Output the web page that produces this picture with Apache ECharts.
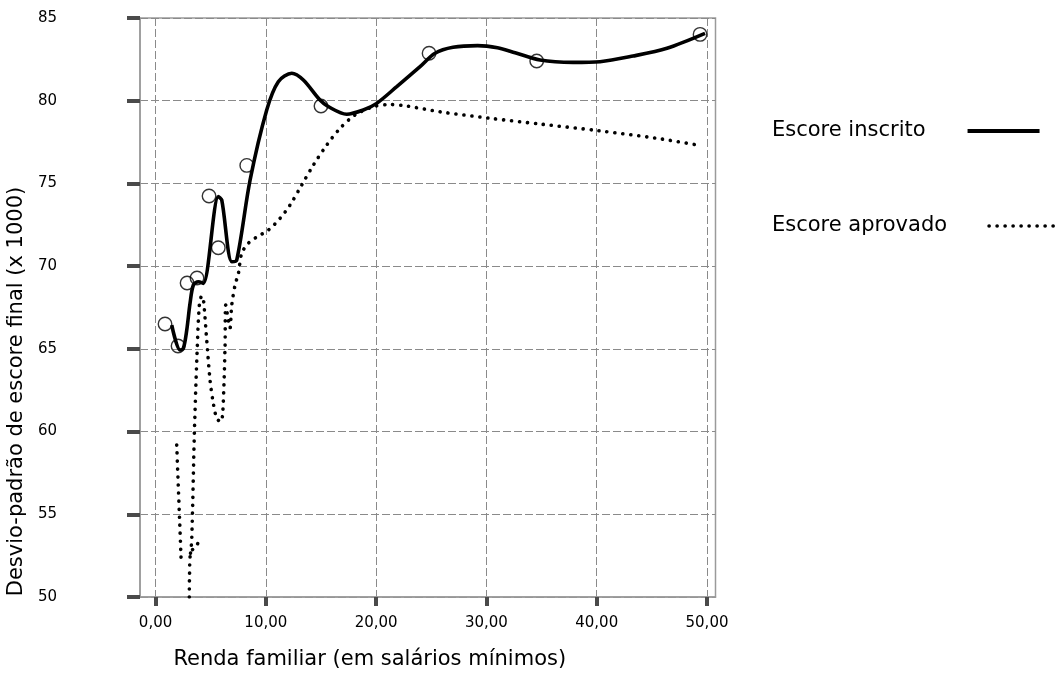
<!DOCTYPE html>
<html>
<head>
<meta charset="utf-8">
<script src="https://cdn.jsdelivr.net/npm/echarts@6/dist/echarts.min.js"></script>
<style>
html,body{margin:0;padding:0;background:#fff;}
#chart{width:1062px;height:674px;}
</style>
</head>
<body>
<div id="chart"></div>
<script>
// Tick labels
const xTicks = [0, 10, 20, 30, 40, 50];

// Escore inscrito: smoothed curve [renda, desvio]
const inscritoCurve = [
  [1.47, 66.44], [2.22, 64.93], [2.52, 65.03], [2.83, 66.14], [3.13, 67.77],
  [3.43, 68.86], [3.88, 69.06], [4.33, 68.96], [5.69, 74.2], [6.0, 74.0],
  [6.91, 70.27], [7.36, 70.37], [8.57, 75.2], [10.08, 79.44], [11.13, 81.15],
  [12.35, 81.66], [13.4, 81.25], [14.91, 80.04], [15.67, 79.64], [17.33, 79.18],
  [18.84, 79.44], [20.05, 79.84], [21.87, 80.85], [23.98, 82.06], [25.34, 82.87],
  [26.97, 83.23], [29.2, 83.33], [31.0, 83.2], [32.6, 82.9], [34.86, 82.46], [37.85, 82.32],
  [40.3, 82.36], [43.29, 82.7], [46.37, 83.17], [49.82, 84.07]
];

// Escore inscrito: observed points (open circles)
const inscritoPoints = [
  [0.86, 66.5], [2.04, 65.17], [2.86, 68.98], [3.76, 69.28], [4.85, 74.24],
  [5.69, 71.11], [8.27, 76.09], [15.0, 79.68], [24.8, 82.87], [34.56, 82.4],
  [49.37, 84.01]
];

// Escore aprovado: smoothed curve (breaks marked with '-')
const aprovadoCurve = [
  [1.92, 59.18], [2.31, 52.41],
  ['-', '-'],
  [3.06, 50.0], [3.08, 51.32], [3.17, 52.65], [3.74, 53.14], [4.1, 53.56],
  ['-', '-'],
  [3.17, 52.65], [3.28, 53.44], [3.52, 59.91], [3.74, 64.32], [3.97, 67.65],
  [4.19, 68.19], [4.33, 68.05], [4.64, 65.53], [4.94, 63.11], [5.24, 61.7],
  [5.55, 60.8], [5.91, 60.59], [6.09, 61.1], [6.3, 65.11], [6.36, 67.65],
  [6.57, 66.86], [6.75, 66.26], [6.91, 67.65], [7.21, 68.86], [7.51, 69.56],
  [7.81, 70.77], [8.41, 71.38], [9.17, 71.76], [10.23, 72.18], [11.29, 72.89],
  [12.19, 73.69], [13.25, 74.9], [14.31, 76.11], [15.52, 77.32], [16.73, 78.33],
  [18.09, 79.14], [19.75, 79.64], [21.26, 79.77], [22.77, 79.68], [25.79, 79.33],
  [30.33, 78.94], [34.86, 78.59], [40.14, 78.19], [45.44, 77.73], [49.52, 77.28]
];

const FONT = 'DejaVu Sans, sans-serif';
const DOT = {color: '#000', width: 3.6, type: [0.1, 7.9], cap: 'round'};
const chart = echarts.init(document.getElementById('chart'), null, {renderer: 'canvas'});

const legendBase = {
  orient: 'vertical',
  left: 772,
  align: 'right',
  padding: 0,
  itemWidth: 72, itemHeight: 24,
  itemStyle: {opacity: 0},
  textStyle: {fontFamily: FONT, fontSize: 21, color: '#000', padding: [0, 37, 0, 0], lineHeight: 24}
};

chart.setOption({
  backgroundColor: '#ffffff',
  animation: false,
  grid: {
    left: 140, top: 18, right: 346.5, bottom: 77,
    outerBoundsMode: 'none',
    containLabel: false,
    show: true, borderColor: '#9a9a9a', borderWidth: 1.5, backgroundColor: 'transparent'
  },
  legend: [
    Object.assign({}, legendBase, {data: ['Escore inscrito'], top: 119, lineStyle: {color: '#000', width: 4}}),
    Object.assign({}, legendBase, {data: ['Escore aprovado'], top: 214, lineStyle: DOT})
  ],
  xAxis: {
    type: 'value',
    min: -1.41, max: 50.77,
    name: 'Renda familiar (em salários mínimos)',
    nameLocation: 'middle',
    nameGap: 52,
    nameTextStyle: {fontFamily: FONT, fontSize: 21, color: '#000', padding: [0, 116, 0, 0]},
    axisLine: {show: true, onZero: false, lineStyle: {color: '#9a9a9a', width: 1.5}},
    axisTick: {show: true, length: 9, customValues: xTicks, lineStyle: {color: '#4a4a4a', width: 4}},
    axisLabel: {
      customValues: xTicks, margin: 19, fontFamily: FONT, fontSize: 15, color: '#000',
      formatter: v => v.toFixed(2).replace('.', ',')
    },
    splitLine: {show: true, lineStyle: {color: '#8a8a8a', width: 1, type: [8, 3]}}
  },
  yAxis: {
    type: 'value',
    min: 50, max: 85, interval: 5,
    name: 'Desvio-padrão de escore final (x 1000)',
    nameLocation: 'middle',
    nameRotate: 90,
    nameGap: 95,
    nameTextStyle: {fontFamily: FONT, fontSize: 21, color: '#000', padding: [0, 168, 0, 0]},
    axisLine: {show: true, onZero: false, lineStyle: {color: '#9a9a9a', width: 1.5}},
    axisTick: {show: true, length: 13, lineStyle: {color: '#4a4a4a', width: 4}},
    axisLabel: {margin: 83, fontFamily: FONT, fontSize: 15, color: '#000', align: 'right'},
    splitLine: {show: true, lineStyle: {color: '#8a8a8a', width: 1, type: [8, 3]}}
  },
  series: [
    {
      name: 'pontos',
      type: 'scatter',
      data: inscritoPoints,
      symbol: 'circle',
      symbolSize: 13.5,
      itemStyle: {color: 'rgba(0,0,0,0)', borderColor: '#000', borderWidth: 1.4},
      z: 2
    },
    {
      name: 'Escore inscrito',
      type: 'line',
      data: inscritoCurve,
      smooth: 0.3,
      symbol: 'none',
      lineStyle: {color: '#000', width: 3.6},
      itemStyle: {color: '#000'},
      z: 3
    },
    {
      name: 'Escore aprovado',
      type: 'line',
      data: aprovadoCurve,
      smooth: 0.3,
      connectNulls: false,
      symbol: 'none',
      lineStyle: DOT,
      itemStyle: {color: '#000'},
      z: 3
    }
  ]
});
</script>
</body>
</html>
